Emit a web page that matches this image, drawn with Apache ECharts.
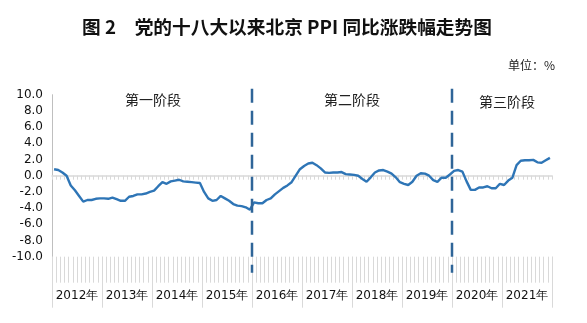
<!DOCTYPE html>
<html>
<head>
<meta charset="utf-8">
<script src="https://cdn.jsdelivr.net/npm/echarts@6/dist/echarts.min.js"></script>
<style>
html,body{margin:0;padding:0;background:#fff;}
#chart{width:587px;height:323px;}
</style>
</head>
<body>
<div id="chart"></div>
<script>
// ---- data ----
const years = ['2012年','2013年','2014年','2015年','2016年','2017年','2018年','2019年','2020年','2021年'];
const months = [];
for (let y = 2012; y <= 2021; y++) { for (let m = 1; m <= 12; m++) { months.push(y + '-' + m); } }
const ppi = [
  0.8, 0.7, 0.4, 0.0, -1.2, -1.8, -2.5, -3.2, -3.0, -3.0, -2.85, -2.8,
  -2.8, -2.85, -2.7, -2.9, -3.1, -3.1, -2.6, -2.5, -2.3, -2.3, -2.2, -2.0,
  -1.85, -1.3, -0.8, -1.0, -0.7, -0.6, -0.5, -0.7, -0.75, -0.8, -0.85, -0.9,
  -2.0, -2.8, -3.1, -3.0, -2.5, -2.8, -3.1, -3.5, -3.7, -3.75, -3.9, -4.2,
  -3.3, -3.4, -3.4, -3.0, -2.8, -2.3, -1.9, -1.5, -1.2, -0.8, 0.0, 0.8,
  1.2, 1.5, 1.6, 1.3, 0.9, 0.4, 0.35, 0.4, 0.4, 0.45, 0.2, 0.15,
  0.1, 0.0, -0.4, -0.75, -0.2, 0.4, 0.65, 0.7, 0.5, 0.25, -0.2, -0.8,
  -1.0, -1.15, -0.75, 0.0, 0.3, 0.25, 0.0, -0.55, -0.75, -0.25, -0.25, 0.15,
  0.6, 0.7, 0.5, -0.7, -1.75, -1.75, -1.45, -1.45, -1.3, -1.55, -1.55, -1.0,
  -1.15, -0.6, -0.25, 1.3, 1.85, 1.9, 1.9, 1.95, 1.65, 1.6, 1.9, 2.2
];
const yMin = -10, yMax = 10, yStep = 2;
const phaseNames = ['第一阶段', '第二阶段', '第三阶段'];
const phaseBreaks = ['2016-1', '2020-1'];
const titleText = '图 2　党的十八大以来北京 PPI 同比涨跌幅走势图';
const unitText = '单位：%';

// ---- chart ----
const chart = echarts.init(document.getElementById('chart'), null, {renderer: 'canvas'});
const gray = '#d9d9d9';
const option = {
  animation: false,
  backgroundColor: '#fff',
  title: [
    {text: titleText, left: 77, top: 13,
     textStyle: {fontFamily: 'Noto Sans CJK SC', fontWeight: 'bold', fontSize: 18.7, color: '#111'}},
    {text: unitText, right: 27, top: 54,
     textStyle: {fontFamily: 'Noto Sans CJK SC', fontWeight: 'normal', fontSize: 12, color: '#222'}}
  ],
  graphic: [
    {type: 'text', left: 125, top: 93, style: {text: phaseNames[0], font: '14px "Noto Sans CJK SC"', fill: '#222'}},
    {type: 'text', left: 324, top: 93, style: {text: phaseNames[1], font: '14px "Noto Sans CJK SC"', fill: '#222'}},
    {type: 'text', left: 479, top: 95, style: {text: phaseNames[2], font: '14px "Noto Sans CJK SC"', fill: '#222'}}
  ],
  grid: {left: 52, right: 35, top: 94.7, bottom: 66.3, containLabel: false},
  xAxis: [
    { // zero line with small month ticks
      type: 'category', data: months, boundaryGap: true,
      axisLine: {onZero: true, lineStyle: {color: gray, width: 1.5}},
      axisTick: {show: true, interval: 0, length: 4, lineStyle: {color: gray, width: 1}},
      axisLabel: {show: false}, splitLine: {show: false}
    },
    { // bottom month dividers
      type: 'category', data: months, boundaryGap: true, position: 'bottom',
      axisLine: {show: false, onZero: false},
      axisTick: {show: true, interval: 0, length: 26, lineStyle: {color: gray, width: 1}},
      axisLabel: {show: false}, splitLine: {show: false}
    },
    { // year labels with long separators
      type: 'category', data: years, boundaryGap: true, position: 'bottom',
      axisLine: {show: false, onZero: false},
      axisTick: {show: true, interval: 0, length: 51, lineStyle: {color: gray, width: 1}},
      axisLabel: {show: true, interval: 0, margin: 33, fontFamily: 'DejaVu Sans', fontSize: 12, color: '#111'},
      splitLine: {show: false}
    }
  ],
  yAxis: {
    type: 'value', min: yMin, max: yMax, interval: yStep,
    axisLine: {show: true, lineStyle: {color: '#bfbfbf', width: 1}},
    axisTick: {show: false},
    splitLine: {show: false},
    axisLabel: {margin: 9, fontFamily: 'DejaVu Sans', fontSize: 12, color: '#111',
      formatter: v => v.toFixed(1)}
  },
  series: [
    {
      type: 'line', xAxisIndex: 0, data: ppi, symbol: 'none', smooth: false,
      lineStyle: {color: '#2e75b6', width: 2.4}, z: 3
    },
    {
      type: 'custom', xAxisIndex: 0, clip: false, z: 4,
      data: phaseBreaks.map(b => [months.indexOf(b), 0]),
      encode: {x: 0, y: 1},
      renderItem: function (params, api) {
        const idx = api.value(0);
        const a = api.coord([idx - 1, yMax]);
        const b = api.coord([idx, yMin]);
        const x = (a[0] + b[0]) / 2;
        return {
          type: 'line',
          shape: {x1: x, y1: a[1] - 6, x2: x, y2: b[1] + 16},
          style: {stroke: '#2f6598', lineWidth: 2.5, lineDash: [14, 8]}
        };
      }
    }
  ]
};
chart.setOption(option);
</script>
</body>
</html>
